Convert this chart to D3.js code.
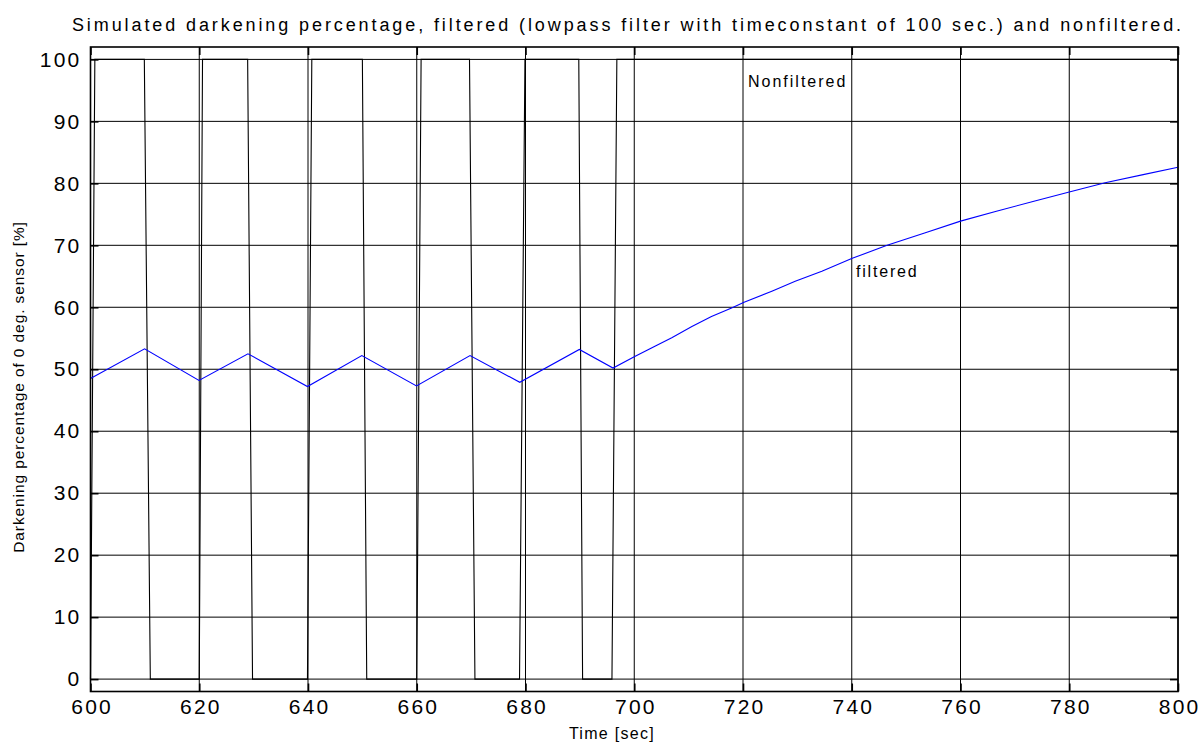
<!DOCTYPE html>
<html><head><meta charset="utf-8">
<script src="https://cdn.jsdelivr.net/npm/d3@7"></script>
<style>
body{margin:0;background:#fff;}
svg{display:block;font-family:"Liberation Sans",Arial,sans-serif;}
</style></head><body>
<svg id="c" width="1199" height="744"></svg>
<script>
const xTicks = [600,620,640,660,680,700,720,740,760,780,800];
const yTicks = [0,10,20,30,40,50,60,70,80,90,100];
const nonfilteredT = [600,600.8,609.9,611.0,620.0,620.6,628.9,629.8,639.9,640.7,650.0,650.8,660.0,660.8,669.7,670.7,678.9,679.9,689.8,690.5,695.9,696.8,800];
const nonfilteredV = [0,100,100,0,0,100,100,0,0,100,100,0,0,100,100,0,0,100,100,0,0,100,100];
const filteredT = [600,609.95,619.95,628.96,639.9,649.9,659.95,669.8,678.95,689.9,696.1,700,703.8,706.9,710.6,714.2,717.9,720.2,725.3,729.6,734.5,740.1,746.5,753.4,760,766.6,773.5,780,786.6,793.6,800];
const filteredV = [48.5,53.3,48.2,52.5,47.2,52.2,47.3,52.2,47.9,53.2,50.2,52.0,53.7,55.1,56.9,58.5,59.9,60.8,62.6,64.2,65.8,67.9,70.0,72.0,73.9,75.5,77.1,78.6,80.1,81.4,82.6];
const titleText = "Simulated darkening percentage, filtered (lowpass filter with timeconstant of 100 sec.) and nonfiltered.";
const xLabel = "Time [sec]";
const yLabel = "Darkening percentage of 0 deg. sensor [%]";

const svg = d3.select("#c");
const L=90.5, R=1178, T=47, B=691.5;
const x = d3.scaleLinear().domain([600,800]).range([L,R]);
const y = d3.scaleLinear().domain([-2,102]).range([B,T]);

// grid
const g = svg.append("g");
g.selectAll("line.vx").data(xTicks).enter().append("line")
  .attr("x1",d=>x(d)).attr("x2",d=>x(d)).attr("y1",T).attr("y2",B)
  .attr("stroke","#000").attr("stroke-width",1);
g.selectAll("line.hy").data(yTicks).enter().append("line")
  .attr("x1",L).attr("x2",R).attr("y1",d=>y(d)).attr("y2",d=>y(d))
  .attr("stroke","#000").attr("stroke-width",1);

// lines
const line = d3.line().x(d=>x(d[0])).y(d=>y(d[1]));
svg.append("path").datum(nonfilteredT.map((t,i)=>[t,nonfilteredV[i]]))
  .attr("d",line).attr("fill","none").attr("stroke","#000").attr("stroke-width",1.1);
svg.append("path").datum(filteredT.map((t,i)=>[t,filteredV[i]]))
  .attr("d",line).attr("fill","none").attr("stroke","#0000ff").attr("stroke-width",1.1);

// frame
svg.append("rect").attr("x",L).attr("y",T).attr("width",R-L).attr("height",B-T)
  .attr("fill","none").attr("stroke","#000").attr("stroke-width",1.6);

// axes (ticks inward)
const xa = svg.append("g").attr("transform",`translate(0,${B})`)
  .call(d3.axisBottom(x).tickValues(xTicks).tickSize(-8).tickPadding(8).tickFormat(d3.format("d")));
const xa2 = svg.append("g").attr("transform",`translate(0,${T})`)
  .call(d3.axisTop(x).tickValues(xTicks).tickSize(-8).tickFormat(""));
const ya = svg.append("g").attr("transform",`translate(${L},0)`)
  .call(d3.axisLeft(y).tickValues(yTicks).tickSize(-8).tickPadding(9).tickFormat(d3.format("d")));
const ya2 = svg.append("g").attr("transform",`translate(${R},0)`)
  .call(d3.axisRight(y).tickValues(yTicks).tickSize(-8).tickFormat(""));
[xa,xa2,ya,ya2].forEach(a=>{
  a.select(".domain").remove();
  a.selectAll(".tick line").attr("stroke","#000").attr("stroke-width",1.6);
  a.selectAll("text").attr("fill","#000").style("font-size","21px").style("letter-spacing","2.2px")
   .style("font-family","'Liberation Sans',Arial,sans-serif");
});
xa.selectAll("text").attr("dy","0.71em").attr("dx","1.1px");

// texts
svg.append("text").attr("x",628).attr("y",31).attr("text-anchor","middle")
  .style("font-size","18px").style("letter-spacing","2.9px").text(titleText);
svg.append("text").attr("x",612).attr("y",739).attr("text-anchor","middle")
  .style("font-size","16px").style("letter-spacing","1.3px").text(xLabel);
svg.append("text").attr("transform","translate(24,387) rotate(-90)").attr("text-anchor","middle")
  .style("font-size","15.5px").style("letter-spacing","0.9px").text(yLabel);
svg.append("text").attr("x",748).attr("y",87)
  .style("font-size","16px").style("letter-spacing","2px").text("Nonfiltered");
svg.append("text").attr("x",856).attr("y",277)
  .style("font-size","16px").style("letter-spacing","1.8px").text("filtered");
</script></body></html>
